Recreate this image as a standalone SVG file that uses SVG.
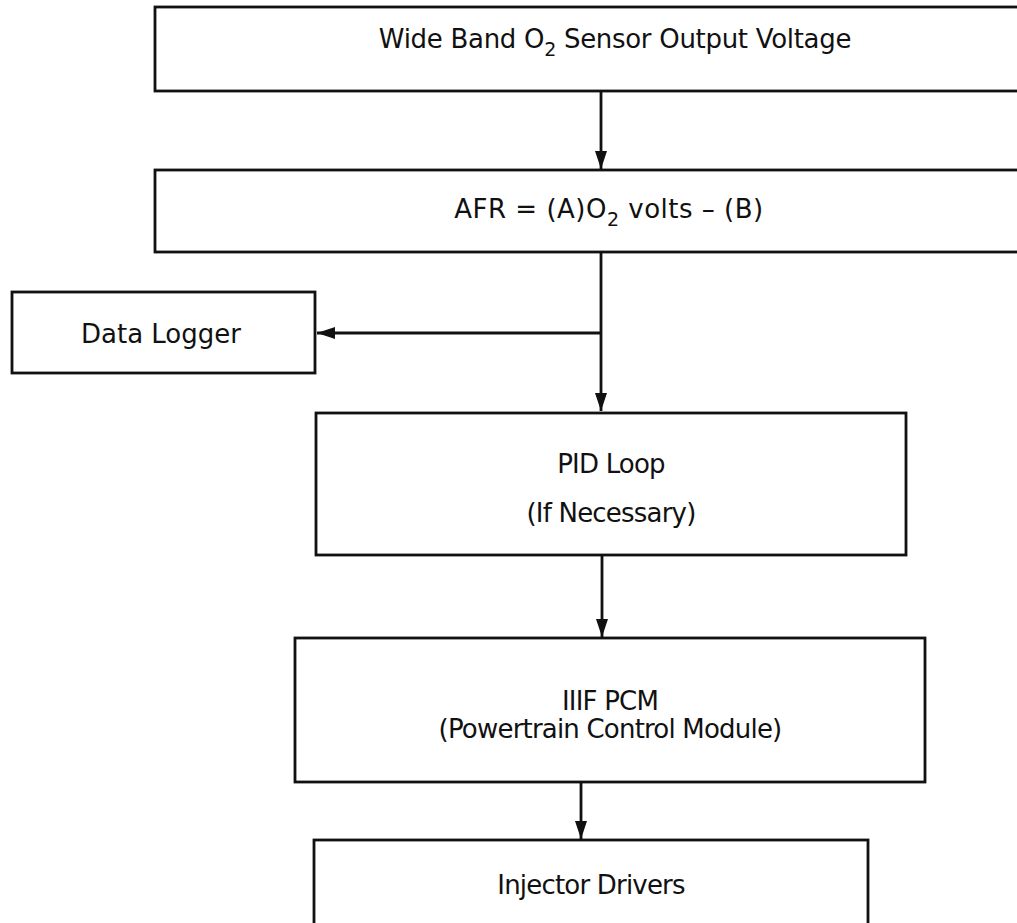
<svg xmlns="http://www.w3.org/2000/svg" width="1017" height="923" viewBox="0 0 1017 923">
<style>
.box{fill:#fff;stroke:#111;stroke-width:2.8}
.t{font-family:"DejaVu Sans",Verdana,sans-serif;font-size:26px;fill:#111;text-anchor:middle}
.n{letter-spacing:-0.8px}
.sub{font-size:19px}
.c{stroke:#111;stroke-width:2.8;fill:none}
</style>
<defs>
<marker id="ah" markerWidth="18" markerHeight="12" refX="18" refY="6" orient="auto" markerUnits="userSpaceOnUse">
<path d="M0,0 L18,6 L0,12 Z" fill="#111"/>
</marker>
</defs>
<g id="connectors">
<line class="c" x1="601" y1="91" x2="601" y2="169" marker-end="url(#ah)"/>
<line class="c" x1="601" y1="252" x2="601" y2="411" marker-end="url(#ah)"/>
<line class="c" x1="601" y1="333" x2="317" y2="333" marker-end="url(#ah)"/>
<line class="c" x1="602" y1="556" x2="602" y2="637" marker-end="url(#ah)"/>
<line class="c" x1="581" y1="782" x2="581" y2="839" marker-end="url(#ah)"/>
</g>
<g id="sensor">
<rect class="box" x="155" y="7" width="925" height="84"/>
<text class="t" x="615" y="48" letter-spacing="-0.3">Wide Band O<tspan class="sub" dy="8">2</tspan><tspan dy="-8"> Sensor Output Voltage</tspan></text>
</g>
<g id="afr">
<rect class="box" x="155" y="170" width="910" height="82"/>
<text class="t" x="609" y="218" letter-spacing="0.5">AFR = (A)O<tspan class="sub" dy="8">2</tspan><tspan dy="-8"> volts – (B)</tspan></text>
</g>
<g id="logger">
<rect class="box" x="12" y="292" width="303" height="81"/>
<text class="t" x="161" y="343">Data Logger</text>
</g>
<g id="pid">
<rect class="box" x="316" y="413" width="590" height="142"/>
<text class="t n" x="611" y="473">PID Loop</text>
<text class="t n" x="611" y="522">(If Necessary)</text>
</g>
<g id="pcm">
<rect class="box" x="295" y="638" width="630" height="144"/>
<text class="t n" x="610" y="710">IIIF PCM</text>
<text class="t n" x="610" y="738">(Powertrain Control Module)</text>
</g>
<g id="injector">
<rect class="box" x="314" y="840" width="554" height="100"/>
<text class="t n" x="591" y="894">Injector Drivers</text>
</g>
</svg>
